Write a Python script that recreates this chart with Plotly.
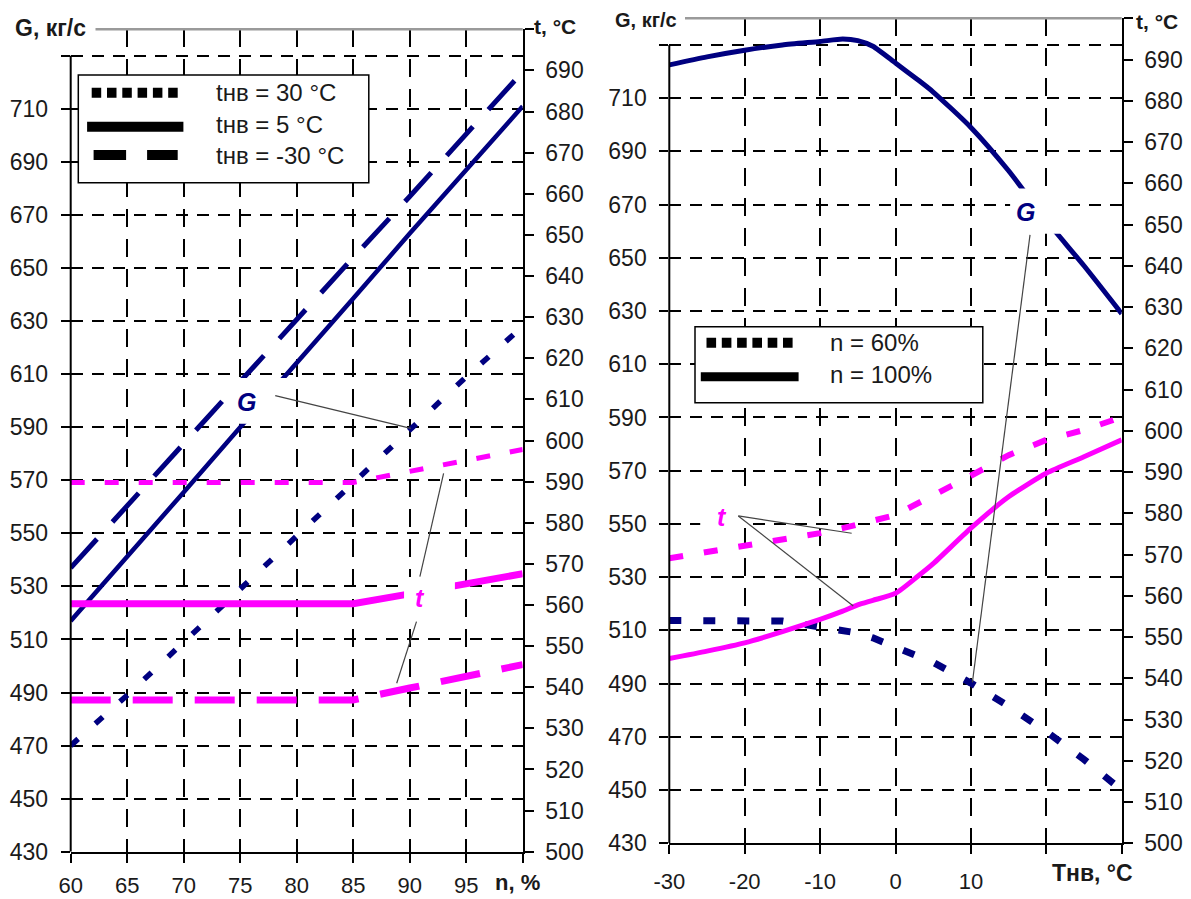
import plotly.graph_objects as go

W, H = 1191, 899
FONT = "Liberation Sans, Arial, sans-serif"
NAVY = "#000080"
MAG = "#FF00FF"
TXT = "#1a1a1a"

# ---------------- Left panel data (x = n, %) ----------------
n_pct = [60, 65, 70, 75, 80, 85, 90, 95, 100]
G_tnv30 = [470, 489, 509, 529, 549, 569, 589, 609, 628]
G_tnv5 = [517, 541, 565.5, 590, 614, 638.5, 663, 687, 711]
G_tnv_m30 = [537, 560.5, 584, 607, 630.5, 654, 677, 700.5, 724]
t_tnv30 = [589.8, 589.8, 589.8, 589.8, 589.8, 589.8, 592.5, 595.2, 597.8]
t_tnv5 = [560.3, 560.3, 560.3, 560.3, 560.3, 560.3, 562.7, 565.2, 567.6]
t_tnv_m30 = [536.9, 536.9, 536.9, 536.9, 536.9, 536.9, 539.8, 542.6, 545.5]

n_ticks = [60, 65, 70, 75, 80, 85, 90, 95, 100]
n_ticktext = ["60", "65", "70", "75", "80", "85", "90", "95", ""]

# ---------------- Right panel data (x = Tнв, °C) ----------------
T_nv = [-30, -25, -20, -15, -10, -7, -5, -3, 0, 3, 5, 10, 15, 20, 25, 30]
G_n100 = [722.5, 725.5, 728, 730, 731.3, 732.2, 731.6, 729.5, 723.2, 716.8, 712.3, 699, 682.7, 664, 647, 629]
G_n60 = [513.7, 513.7, 513.7, 513.5, 511.3, 510, 509, 507.2, 503.5, 500.3, 498, 490.2, 481.5, 472, 461.5, 450]
t_n100 = [544.8, 546.6, 548.6, 551.3, 554.3, 556.3, 557.8, 558.9, 560.6, 564.8, 567.8, 576.4, 584, 589.7, 593.7, 597.8]
t_n60 = [569.1, 570.6, 572.1, 573.6, 575.2, 576.4, 577.2, 578.2, 579.6, 582.4, 584.3, 589.1, 594.1, 597.8, 600.2, 603.3]

T_ticks = [-30, -20, -10, 0, 10, 20, 30]
T_ticktext = ["-30", "-20", "-10", "0", "10", "", ""]

# ---------------- shared axis ticks ----------------
G_ticks = list(range(430, 731, 20))
G_ticktext = [str(v) for v in G_ticks[:-1]] + [""]
t_ticks = list(range(500, 701, 10))
t_ticktext = [str(v) for v in t_ticks[:-1]] + [""]

fig = go.Figure()

# Left panel traces
fig.add_trace(go.Scatter(x=n_pct, y=G_tnv30, mode="lines", xaxis="x", yaxis="y",
                         line=dict(color=NAVY, width=5.5, dash="10px,23px"), showlegend=False))
fig.add_trace(go.Scatter(x=n_pct, y=G_tnv5, mode="lines", xaxis="x", yaxis="y",
                         line=dict(color=NAVY, width=4.5), showlegend=False))
fig.add_trace(go.Scatter(x=n_pct, y=G_tnv_m30, mode="lines", xaxis="x", yaxis="y",
                         line=dict(color=NAVY, width=5, dash="39px,23px"), showlegend=False))
fig.add_trace(go.Scatter(x=n_pct, y=t_tnv30, mode="lines", xaxis="x", yaxis="y2",
                         line=dict(color=MAG, width=5, dash="14px,20px"), showlegend=False))
fig.add_trace(go.Scatter(x=n_pct, y=t_tnv5, mode="lines", xaxis="x", yaxis="y2",
                         line=dict(color=MAG, width=7), showlegend=False))
fig.add_trace(go.Scatter(x=n_pct, y=t_tnv_m30, mode="lines", xaxis="x", yaxis="y2",
                         line=dict(color=MAG, width=7, dash="40px,22px"), showlegend=False))

# Right panel traces
fig.add_trace(go.Scatter(x=T_nv, y=G_n100, mode="lines", xaxis="x2", yaxis="y3",
                         line=dict(color=NAVY, width=5, shape="spline", smoothing=0.6), showlegend=False))
fig.add_trace(go.Scatter(x=T_nv, y=G_n60, mode="lines", xaxis="x2", yaxis="y3",
                         line=dict(color=NAVY, width=7, dash="12px,22px"), showlegend=False))
fig.add_trace(go.Scatter(x=T_nv, y=t_n100, mode="lines", xaxis="x2", yaxis="y4",
                         line=dict(color=MAG, width=5, shape="spline", smoothing=0.6), showlegend=False))
fig.add_trace(go.Scatter(x=T_nv, y=t_n60, mode="lines", xaxis="x2", yaxis="y4",
                         line=dict(color=MAG, width=6, dash="14px,21px"), showlegend=False))

tickfont = dict(family=FONT, size=23, color=TXT)
xtickfont = dict(family=FONT, size=22, color=TXT)

LX = [70.7 / W, 522.7 / W]
LY = [1 - 851.7 / H, 1 - 29.3 / H]
RX = [669.3 / W, 1121.7 / W]
RY = [1 - 843.3 / H, 1 - 18.3 / H]

def xax(domain, rng, tv, tt, anchor, standoff):
    return dict(domain=domain, range=rng, anchor=anchor, tickmode="array", tickvals=tv, ticktext=tt,
                showline=True, linecolor="black", linewidth=2, ticks="outside", ticklen=9, tickwidth=2,
                tickcolor="black", showgrid=True, gridcolor="black", gridwidth=1.5, griddash="18px,12px",
                zeroline=False, tickfont=xtickfont, ticklabelstandoff=standoff, automargin=False,
                fixedrange=True)

def yG(domain, anchor):
    return dict(domain=domain, range=[430, 740], anchor=anchor, tickmode="array", tickvals=G_ticks,
                ticktext=G_ticktext, showline=False, ticks="outside", ticklen=9, tickwidth=2,
                tickcolor="black", showgrid=True, gridcolor="black", gridwidth=1.5, griddash="12px,9px",
                zeroline=False, tickfont=tickfont, ticklabelstandoff=8, automargin=False)

def yt(over, anchor):
    return dict(overlaying=over, side="right", anchor=anchor, range=[500, 700], tickmode="array",
                tickvals=t_ticks, ticktext=t_ticktext, showline=True, linecolor="black", linewidth=2,
                ticks="outside", ticklen=9, tickwidth=2, tickcolor="black", showgrid=False,
                zeroline=False, tickfont=tickfont, ticklabelstandoff=7, automargin=False)

def inside(base_over, anchor, rng, tv, side):
    return dict(overlaying=base_over, anchor=anchor, side=side, range=rng, tickmode="array", tickvals=tv,
                ticks="inside", ticklen=9, tickwidth=2, tickcolor="black", showticklabels=False,
                showgrid=False, showline=False, zeroline=False, automargin=False)

layout = dict(
    width=W, height=H, margin=dict(l=0, r=0, t=0, b=0, autoexpand=False),
    paper_bgcolor="white", plot_bgcolor="white", showlegend=False,
    xaxis=xax(LX, [60, 100], n_ticks, n_ticktext, "y", 4),
    yaxis=yG(LY, "x"),
    yaxis2=yt("y", "x"),
    xaxis2=xax(RX, [-30, 30], T_ticks, T_ticktext, "y3", 8),
    yaxis3=yG(RY, "x2"),
    yaxis4=yt("y3", "x2"),
    xaxis3=inside("x", "y", [60, 100], n_ticks, "bottom"),
    yaxis5=inside("y", "x", [430, 740], G_ticks, "left"),
    yaxis6=inside("y", "x", [500, 700], t_ticks, "right"),
    xaxis4=inside("x2", "y3", [-30, 30], T_ticks, "bottom"),
    yaxis7=inside("y3", "x2", [430, 740], G_ticks, "left"),
    yaxis8=inside("y3", "x2", [500, 700], t_ticks, "right"),
)
fig.update_layout(**layout)

def px(x):
    return x / W

def py(y):
    return 1 - y / H

shapes = []
# left axis lines stopping at 730
shapes.append(dict(type="line", xref="x domain", yref="y", x0=0, x1=0, y0=430, y1=730,
                   line=dict(color="black", width=2), layer="above"))
shapes.append(dict(type="line", xref="x2 domain", yref="y3", x0=0, x1=0, y0=430, y1=730,
                   line=dict(color="black", width=2), layer="above"))
# top grey lines
shapes.append(dict(type="line", xref="paper", yref="paper", x0=px(95.5), x1=px(522.7), y0=py(29.3), y1=py(29.3),
                   line=dict(color="#9a9a9a", width=2.5), layer="above"))
shapes.append(dict(type="line", xref="paper", yref="paper", x0=px(685), x1=px(1121.7), y0=py(18.3), y1=py(18.3),
                   line=dict(color="#9a9a9a", width=2.5), layer="above"))

# white boxes behind labels
def wbox(xr, yr, x0, x1, y0, y1):
    shapes.append(dict(type="rect", xref=xr, yref=yr, x0=x0, x1=x1, y0=y0, y1=y1,
                       fillcolor="white", line=dict(width=0), layer="above"))

wbox("x", "y", 74.45, 79.2, 591.3, 608.6)      # left G
wbox("x", "y", 89.5, 94.0, 516.6, 533.5)       # left t
wbox("x2", "y3", 15.2, 22.9, 659.0, 676.0)     # right G
wbox("x2", "y3", -25.9, -19.7, 549.5, 563.0)   # right t

# leader lines
def lead(xr, yr, x0, y0, x1, y1):
    shapes.append(dict(type="line", xref=xr, yref=yr, x0=x0, y0=y0, x1=x1, y1=y1,
                       line=dict(color="#444444", width=1.2), layer="above"))

lead("x", "y", 78.1, 601.9, 90.1, 589.6)
lead("x", "y", 90.9, 533.7, 93.0, 572.6)
lead("x", "y", 90.6, 516.7, 88.85, 493.5)
lead("x2", "y3", 17.84, 658.6, 10.2, 490.5)
lead("x2", "y3", -20.85, 553.0, -5.81, 546.5)
lead("x2", "y3", -20.85, 553.0, -5.6, 519.2)

# legend boxes
shapes.append(dict(type="rect", xref="paper", yref="paper", x0=px(78.3), x1=px(368.8), y0=py(182.7), y1=py(75),
                   fillcolor="white", line=dict(color="black", width=1.5), layer="above"))
shapes.append(dict(type="rect", xref="paper", yref="paper", x0=px(695), x1=px(982.8), y0=py(402.7), y1=py(326.7),
                   fillcolor="white", line=dict(color="black", width=1.5), layer="above"))

def sample(x0, x1, y, width, dash=None):
    ln = dict(color="black", width=width)
    if dash:
        ln["dash"] = dash
    shapes.append(dict(type="line", xref="paper", yref="paper", x0=px(x0), x1=px(x1), y0=py(y), y1=py(y),
                       line=ln, layer="above"))

sample(91.7, 177.7, 92.7, 10, "9.5px,5.8px")
sample(87.1, 183.4, 126.7, 10)
sample(93.6, 177.7, 155, 10, "32.5px,21px")
sample(706.5, 792.9, 342.7, 10, "9.6px,5.7px")
sample(700.8, 798.6, 376.7, 9)

fig.update_layout(shapes=shapes)

ann = []
def ptext(text, x, y, xanchor="left", size=21, bold=True):
    ann.append(dict(text=("<b>%s</b>" % text) if bold else text, xref="paper", yref="paper",
                    x=px(x), y=py(y), xanchor=xanchor, yanchor="middle", showarrow=False,
                    font=dict(family=FONT, size=size, color=TXT)))

# axis titles
ptext("G, кг/с", 13.4, 28.3, size=23)
ptext("t, °C", 531.7, 26.7, size=21)
ptext("n, %", 517.8, 882.5, xanchor="center", size=22)
ptext("G, кг/с", 612.7, 19.5, size=20)
ptext("t, °C", 1134.4, 22.0, size=21)
ptext("Tнв, °C", 1092.5, 873.3, xanchor="center", size=23)

# legend texts
ptext("tнв = 30 °C", 214, 92.7, size=24, bold=False)
ptext("tнв = 5 °C", 214, 124.0, size=24, bold=False)
ptext("tнв = -30 °C", 214, 155.0, size=24, bold=False)
ptext("n = 60%", 828.2, 342.7, size=24, bold=False)
ptext("n = 100%", 828.2, 374.0, size=24, bold=False)

def dlabel(text, xr, yr, x, y, color):
    ann.append(dict(text="<b><i>%s</i></b>" % text, xref=xr, yref=yr, x=x, y=y, xanchor="center",
                    yanchor="middle", showarrow=False, font=dict(family=FONT, size=25, color=color)))

dlabel("G", "x", "y", 75.6, 599.6, NAVY)
dlabel("t", "x", "y", 90.92, 525.5, MAG)
dlabel("G", "x2", "y3", 17.3, 667.2, NAVY)
dlabel("t", "x2", "y3", -23.05, 552.7, MAG)

fig.update_layout(annotations=ann)

fig.write_html("out.html")
